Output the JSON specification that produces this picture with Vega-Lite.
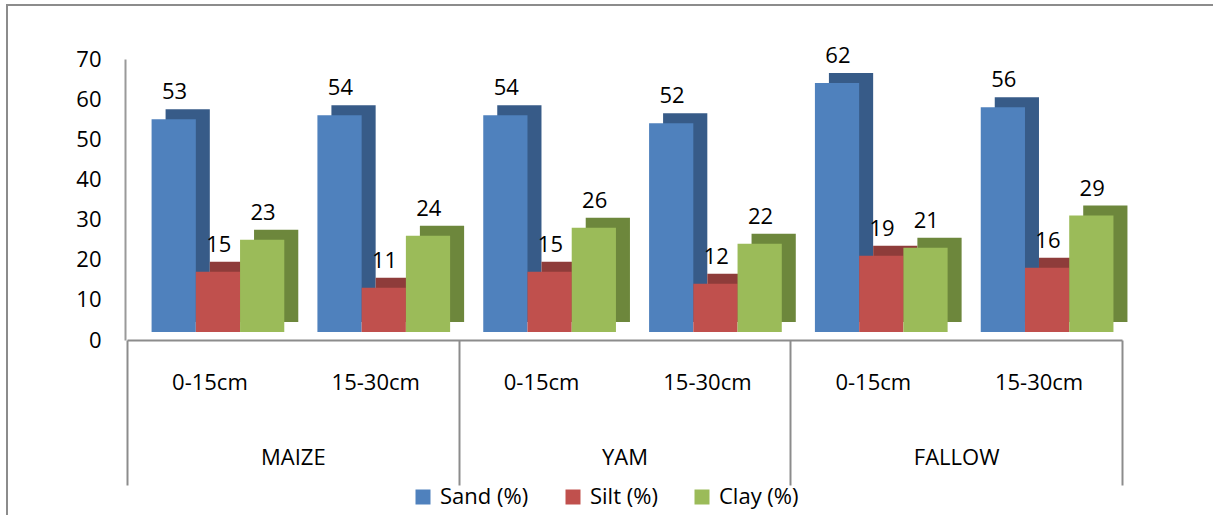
{
  "$schema": "https://vega.github.io/schema/vega-lite/v6.json",
  "width": 1210,
  "height": 515,
  "autosize": "none",
  "padding": {"left": 7, "top": 5, "right": 0, "bottom": 0},
  "config": {
    "font": "Open Sans",
    "view": {"stroke": "#8c8c8c", "strokeWidth": 2},
    "axis": {"grid": false, "labelColor": "#000000", "labelFont": "Open Sans", "labelFontSize": 22, "title": null}
  },
  "data": {
    "values": [
      {"crop": "MAIZE", "group": "MAIZE 0-15cm", "series": "Sand (%)", "value": 53},
      {"crop": "MAIZE", "group": "MAIZE 0-15cm", "series": "Silt (%)", "value": 15},
      {"crop": "MAIZE", "group": "MAIZE 0-15cm", "series": "Clay (%)", "value": 23},
      {"crop": "MAIZE", "group": "MAIZE 15-30cm", "series": "Sand (%)", "value": 54},
      {"crop": "MAIZE", "group": "MAIZE 15-30cm", "series": "Silt (%)", "value": 11},
      {"crop": "MAIZE", "group": "MAIZE 15-30cm", "series": "Clay (%)", "value": 24},
      {"crop": "YAM", "group": "YAM 0-15cm", "series": "Sand (%)", "value": 54},
      {"crop": "YAM", "group": "YAM 0-15cm", "series": "Silt (%)", "value": 15},
      {"crop": "YAM", "group": "YAM 0-15cm", "series": "Clay (%)", "value": 26},
      {"crop": "YAM", "group": "YAM 15-30cm", "series": "Sand (%)", "value": 52},
      {"crop": "YAM", "group": "YAM 15-30cm", "series": "Silt (%)", "value": 12},
      {"crop": "YAM", "group": "YAM 15-30cm", "series": "Clay (%)", "value": 22},
      {"crop": "FALLOW", "group": "FALLOW 0-15cm", "series": "Sand (%)", "value": 62},
      {"crop": "FALLOW", "group": "FALLOW 0-15cm", "series": "Silt (%)", "value": 19},
      {"crop": "FALLOW", "group": "FALLOW 0-15cm", "series": "Clay (%)", "value": 21},
      {"crop": "FALLOW", "group": "FALLOW 15-30cm", "series": "Sand (%)", "value": 56},
      {"crop": "FALLOW", "group": "FALLOW 15-30cm", "series": "Silt (%)", "value": 16},
      {"crop": "FALLOW", "group": "FALLOW 15-30cm", "series": "Clay (%)", "value": 29}
    ]
  },
  "layer": [
    {
      "layer": [
        {
          "mark": {"type": "bar", "yOffset": -18},
          "encoding": {
            "x": {
              "field": "group", "type": "nominal",
              "sort": ["MAIZE 0-15cm", "MAIZE 15-30cm", "YAM 0-15cm", "YAM 15-30cm", "FALLOW 0-15cm", "FALLOW 15-30cm"],
              "scale": {"range": [120, 1115], "paddingInner": 0.2, "paddingOuter": 0.1},
              "axis": {
                "orient": "bottom", "offset": -180, "ticks": false,
                "domainColor": "#8c8c8c", "domainWidth": 2,
                "labelExpr": "split(datum.label, ' ')[1]",
                "labelPadding": 32, "labelAngle": 0
              }
            },
            "xOffset": {"field": "series", "type": "nominal", "sort": ["Sand (%)", "Silt (%)", "Clay (%)"], "scale": {"paddingInner": 0, "paddingOuter": 0, "range": [22, 154.7]}},
            "y": {
              "field": "value", "type": "quantitative",
              "scale": {"domain": [0, 70], "range": [335, 54], "nice": false},
              "axis": {
                "orient": "left", "offset": -118, "ticks": false,
                "values": [0, 10, 20, 30, 40, 50, 60, 70],
                "domainColor": "#9a9a9a", "domainWidth": 2,
                "labelPadding": 24
              }
            },
            "color": {
              "field": "series", "type": "nominal",
              "scale": {"domain": ["Sand (%)", "Silt (%)", "Clay (%)"], "range": ["#375b88", "#8e3c3a", "#6d873c"]},
              "legend": null
            }
          }
        },
        {
          "mark": {"type": "bar", "yOffset": -8},
          "encoding": {
            "x": {"field": "group", "type": "nominal", "sort": ["MAIZE 0-15cm", "MAIZE 15-30cm", "YAM 0-15cm", "YAM 15-30cm", "FALLOW 0-15cm", "FALLOW 15-30cm"]},
            "xOffset": {"field": "series", "type": "nominal", "sort": ["Sand (%)", "Silt (%)", "Clay (%)"], "scale": {"paddingInner": 0, "paddingOuter": 0, "range": [8, 140.7]}},
            "y": {"field": "value", "type": "quantitative"},
            "color": {
              "field": "series", "type": "nominal",
              "scale": {"domain": ["Sand (%)", "Silt (%)", "Clay (%)"], "range": ["#4f81bd", "#c0504d", "#9bbb59"]},
              "legend": {
                "orient": "none", "legendX": 405, "legendY": 481,
                "direction": "horizontal", "title": null,
                "symbolType": "square", "symbolSize": 225, "symbolStrokeWidth": 0,
                "labelFontSize": 22, "labelFont": "Open Sans", "labelColor": "#000000",
                "labelOffset": 6, "columnPadding": 33
              }
            }
          }
        },
        {
          "mark": {"type": "text", "yOffset": -28, "baseline": "alphabetic", "fontSize": 22, "font": "Open Sans", "color": "#000000"},
          "encoding": {
            "x": {"field": "group", "type": "nominal", "sort": ["MAIZE 0-15cm", "MAIZE 15-30cm", "YAM 0-15cm", "YAM 15-30cm", "FALLOW 0-15cm", "FALLOW 15-30cm"]},
            "xOffset": {"field": "series", "type": "nominal", "sort": ["Sand (%)", "Silt (%)", "Clay (%)"], "scale": {"type": "point", "padding": 0, "range": [31, 119.4]}},
            "y": {"field": "value", "type": "quantitative"},
            "text": {"field": "value", "type": "quantitative"}
          }
        }
      ],
      "resolve": {"scale": {"color": "independent", "xOffset": "independent"}}
    },
    {
      "mark": {"type": "text", "text": ""},
      "encoding": {
        "x": {
          "field": "crop", "type": "nominal",
          "sort": ["MAIZE", "YAM", "FALLOW"],
          "scale": {"range": [120, 1115]},
          "axis": {
            "orient": "bottom", "offset": -180,
            "domain": false, "tickBand": "extent",
            "tickSize": 145, "tickColor": "#8c8c8c", "tickWidth": 2,
            "labelPadding": -38, "labelAngle": 0
          }
        }
      }
    }
  ],
  "resolve": {"scale": {"x": "independent"}}
}
